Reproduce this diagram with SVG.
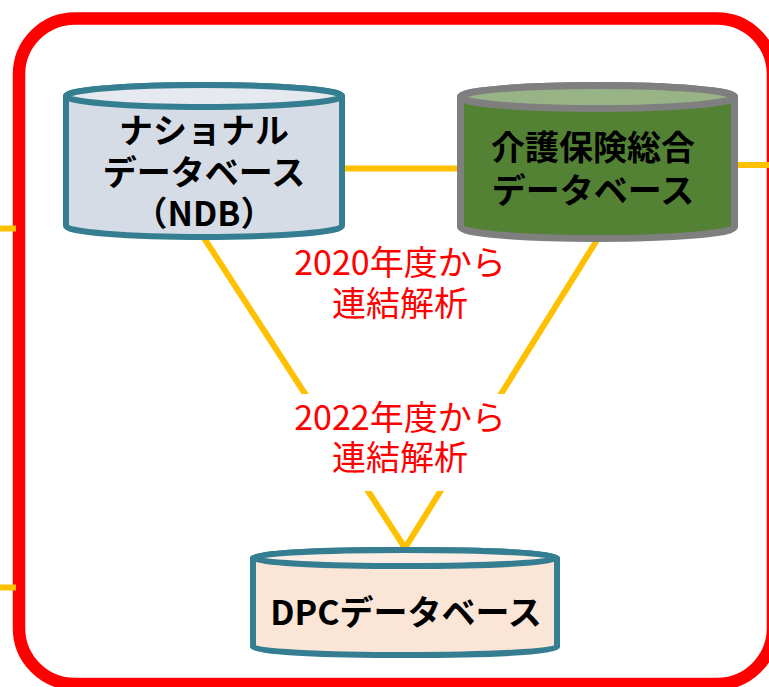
<svg xmlns="http://www.w3.org/2000/svg" width="769" height="687" viewBox="0 0 769 687">
<style>
.conn{stroke:#FFC000;stroke-width:6;fill:none}
.node{font-family:"Noto Sans CJK JP","Noto Sans",sans-serif;font-weight:bold;font-size:34px;fill:#000;text-anchor:middle}
.lbl{font-family:"Noto Sans CJK JP","Noto Sans",sans-serif;font-size:34px;fill:#FF0000;text-anchor:middle}
.teal{stroke:#357E92;stroke-width:6}
.gray{stroke:#7F7F7F;stroke-width:7}
</style>
<rect width="769" height="687" fill="#fff"/>
<g id="frame">
<rect x="19" y="18.5" width="754" height="665.5" rx="56" ry="56" fill="none" stroke="#FF0000" stroke-width="12.5"/>
</g>
<g id="connectors">
<line class="conn" x1="0" y1="228.5" x2="16" y2="228.5"/>
<line class="conn" x1="0" y1="587.5" x2="16" y2="587.5"/>
<line class="conn" x1="736" y1="165" x2="769" y2="165"/>
<line class="conn" x1="345" y1="168.5" x2="458" y2="168.5"/>
<line class="conn" x1="204" y1="238" x2="405" y2="548"/>
<line class="conn" x1="597" y1="240" x2="405" y2="548"/>
</g>
<g id="ndb">
<path class="teal" d="M66,96 A138,11 0 0 1 342,96 L342,226 A138,11 0 0 1 66,226 Z" fill="#D6DCE5"/>
<ellipse class="teal" cx="204" cy="96" rx="138" ry="11" fill="#E6EAF0"/>
<text class="node" x="204" y="143">ナショナル</text>
<text class="node" x="204" y="185">データベース</text>
<text class="node" x="204" y="226">（NDB）</text>
</g>
<g id="kaigo">
<path class="gray" d="M460.5,97 A137,11.5 0 0 1 734.5,97 L734.5,227 A137,11.5 0 0 1 460.5,227 Z" fill="#548235"/>
<ellipse class="gray" cx="597.5" cy="97" rx="137" ry="11.5" fill="#98B386"/>
<text class="node" x="593" y="160">介護保険総合</text>
<text class="node" x="593" y="203">データベース</text>
</g>
<g id="label2020">
<text class="lbl" x="400" y="275">2020年度から</text>
<text class="lbl" x="400" y="316">連結解析</text>
</g>
<g id="label2022">
<rect x="285" y="394" width="230" height="97" fill="#fff"/>
<text class="lbl" x="400" y="430">2022年度から</text>
<text class="lbl" x="400" y="470">連結解析</text>
</g>
<g id="dpc">
<path class="teal" d="M253,558 A152,8 0 0 1 557,558 L557,647 A152,8 0 0 1 253,647 Z" fill="#FBE5D6"/>
<ellipse class="teal" cx="405" cy="558" rx="152" ry="8" fill="#FCEEE5"/>
<text class="node" x="406" y="625">DPCデータベース</text>
</g>
</svg>
